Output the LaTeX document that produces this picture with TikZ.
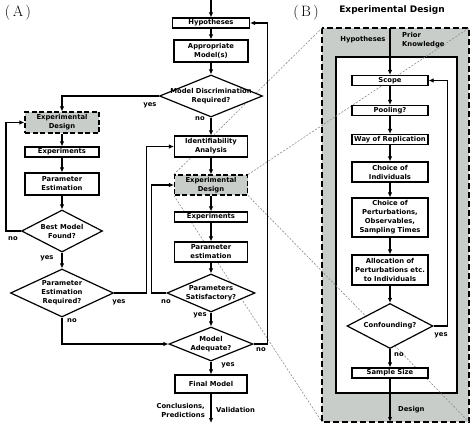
\documentclass[tikz,border=0pt]{standalone}
\usepackage{fontspec}
\usepackage{tikz}
\usetikzlibrary{shapes.geometric,backgrounds,arrows.meta}
\newfontfamily\diagfont{DejaVu Sans}
\definecolor{panelgris}{RGB}{200,205,202}
\definecolor{lineagris}{RGB}{140,140,140}

\tikzset{
  txt/.style={font=\diagfont\bfseries\fontsize{6.8}{9}\selectfont, align=center, inner sep=0pt},
  caja/.style={txt, draw, line width=1.2pt, fill=white, minimum width=74pt, minimum height=10pt},
  cajad/.style={caja, fill=panelgris, dash pattern=on 5pt off 2.5pt},
  rombo/.style={diamond, draw, line width=1.2pt, fill=white, inner sep=0pt},
  flecha/.style={line width=1.2pt, -{Latex[length=5pt,width=4.5pt]}},
  zoomlinea/.style={lineagris, line width=0.6pt, dash pattern=on 2pt off 1.5pt},
}

\begin{document}
\begin{tikzpicture}[x=1pt,y=-1pt]
    \useasboundingbox (0,0) rectangle (474,426);

    % Rótulos de los paneles
    \node[font=\fontsize{15}{15}\selectfont] (labA) at (18,13) {(\,A\,)};
    \node[font=\fontsize{15}{15}\selectfont] (labB) at (306,13) {(\,B\,)};
    \node[txt, font=\diagfont\bfseries\fontsize{9}{9}\selectfont] (titB) at (392,10) {Experimental Design};

    % Columna derecha de (A)
    \coordinate (inicio) at (211,0);
    \node[caja, minimum width=77pt] (hyp) at (211,23) {Hypotheses};
    \node[caja, minimum height=22pt] (mod) at (211,51) {Appropriate\\Model(s)};
    \node[rombo, minimum width=103pt, minimum height=42pt,
          label={[txt]center:{Model Discrimination\\Required?}}] (disc) at (211,96) {};
    \node[caja, minimum width=73pt, minimum height=21pt] (ident) at (211,146.5) {Identifiability\\Analysis};
    \node[cajad, minimum width=73pt, minimum height=20pt] (dis2) at (211,185) {Experimental\\Design};
    \node[caja, minimum width=73pt] (exp2) at (211,217) {Experiments};
    \node[caja, minimum width=73pt, minimum height=20pt] (est2) at (211,252) {Parameter\\estimation};
    \node[rombo, minimum width=88pt, minimum height=38pt,
          label={[txt]center:{Parameters\\Satisfactory?}}] (satis) at (211,293) {};
    \node[rombo, minimum width=84pt, minimum height=34pt,
          label={[txt]center:{Model\\Adequate?}}] (adec) at (211,344) {};
    \node[caja, minimum width=72pt, minimum height=18pt] (final) at (211,384) {Final Model};
    \coordinate (fin) at (211,423);

    % Columna izquierda de (A)
    \node[cajad, minimum height=21pt] (dis1) at (62,122.5) {Experimental\\Design};
    \node[caja] (exp1) at (62,152) {Experiments};
    \node[caja, minimum height=22pt] (est1) at (62,184) {Parameter\\Estimation};
    \node[rombo, minimum width=81pt, minimum height=42pt,
          label={[txt]center:{Best Model\\Found?}}] (mejor) at (62,231) {};
    \node[rombo, minimum width=103pt, minimum height=48pt,
          label={[txt]center:{Parameter\\Estimation\\Required?}}] (estreq) at (62,293) {};

    % Flechas de (A)
    \draw[flecha] (inicio) -- (hyp);
    \draw[flecha] (hyp) -- (mod);
    \draw[flecha] (mod) -- (disc);
    \draw[flecha] (disc) -- (ident);
    \draw[flecha] (disc.west) -| (dis1.north);
    \draw[flecha] (ident) -- (dis2);
    \draw[flecha] (dis2) -- (exp2);
    \draw[flecha] (exp2) -- (est2);
    \draw[flecha] (est2) -- (satis);
    \draw[flecha] (satis) -- (adec);
    \draw[flecha] (satis.west) -- ++(-15,0) |- (dis2.west);
    \draw[flecha] (adec) -- (final);
    \draw[flecha] (adec.east) -- ++(14,0) |- (hyp.east);
    \draw[flecha] (final) -- (fin);
    \draw[flecha] (dis1) -- (exp1);
    \draw[flecha] (exp1) -- (est1);
    \draw[flecha] (est1) -- (mejor);
    \draw[flecha] (mejor.west) -- ++(-15,0) |- (dis1.west);
    \draw[flecha] (mejor) -- (estreq);
    \draw[flecha] (estreq.east) -- ++(32,0) |- (ident.west);
    \draw[flecha] (estreq.south) |- (adec.west);

    % Etiquetas yes / no
    \node[txt] (si1) at (150,105) {yes};
    \node[txt] (no1) at (200,119) {no};
    \node[txt] (no2) at (13,239) {no};
    \node[txt] (si2) at (47,258) {yes};
    \node[txt] (si3) at (119,302) {yes};
    \node[txt] (no3) at (72,321) {no};
    \node[txt] (no4) at (166,302) {no};
    \node[txt] (si4) at (200,315) {yes};
    \node[txt] (no5) at (261,350) {no};
    \node[txt] (si5) at (228,365) {yes};
    \node[txt, anchor=east, align=right] (concl) at (205,410) {Conclusions,\\Predictions};
    \node[txt, anchor=west] (valid) at (216,410) {Validation};

    % Panel (B)
    \coordinate (bno) at (322,28);
    \coordinate (bse) at (469,422);
    \coordinate (bin) at (336,57);
    \coordinate (bis) at (457,393);
    \coordinate (bent) at (390,28);
    \coordinate (bsal) at (390,422);

    \node[txt] (hypB) at (363,40) {Hypotheses};
    \node[txt, anchor=west, align=left] (prior) at (402,40) {Prior\\Knowledge};
    \node[txt, anchor=west] (dise) at (398,410) {Design};

    \node[caja, minimum width=76pt] (scope) at (390,80.5) {Scope};
    \node[caja, minimum width=76pt] (pool) at (390,110.5) {Pooling?};
    \node[caja, minimum width=76pt] (repl) at (390,139.5) {Way of Replication};
    \node[caja, minimum width=76pt, minimum height=20pt] (indiv) at (390,172) {Choice of\\Individuals};
    \node[caja, minimum width=76pt, minimum height=39pt] (pert) at (390,217.5) {Choice of\\Perturbations,\\Observables,\\Sampling Times};
    \node[caja, minimum width=76pt, minimum height=30pt] (asig) at (390,270) {Allocation of\\Perturbations etc.\\to Individuals};
    \node[rombo, minimum width=86pt, minimum height=45pt,
          label={[txt]center:{Confounding?}}] (conf) at (390,326) {};
    \node[caja, minimum width=76pt] (muestra) at (390,373) {Sample Size};

    \node[txt] (si6) at (441,335) {yes};
    \node[txt] (no6) at (399,355) {no};

    % Flechas de (B)
    \draw[flecha] (bent) -- (scope);
    \draw[flecha] (scope) -- (pool);
    \draw[flecha] (pool) -- (repl);
    \draw[flecha] (repl) -- (indiv);
    \draw[flecha] (indiv) -- (pert);
    \draw[flecha] (pert) -- (asig);
    \draw[flecha] (asig) -- (conf);
    \draw[flecha] (conf.east) -- ++(14,0) |- (scope.east);
    \draw[flecha] (conf) -- (muestra);
    \draw[flecha] (muestra) -- (bsal);

    % Fondo del panel y líneas de ampliación
    \begin{pgfonlayer}{background}
      \draw[fill=panelgris, line width=1.4pt, dash pattern=on 6pt off 3pt] (bno) rectangle (bse);
      \draw[fill=white, line width=1.2pt] (bin) rectangle (bis);
      \draw[zoomlinea] (dis2.north west) -- (bno);
      \draw[zoomlinea] (dis2.north east) -- (bno -| bse);
      \draw[zoomlinea] (dis2.south west) -- (bno |- bse);
      \draw[zoomlinea] (dis2.south east) -- (bse);
    \end{pgfonlayer}
\end{tikzpicture}
\end{document}
